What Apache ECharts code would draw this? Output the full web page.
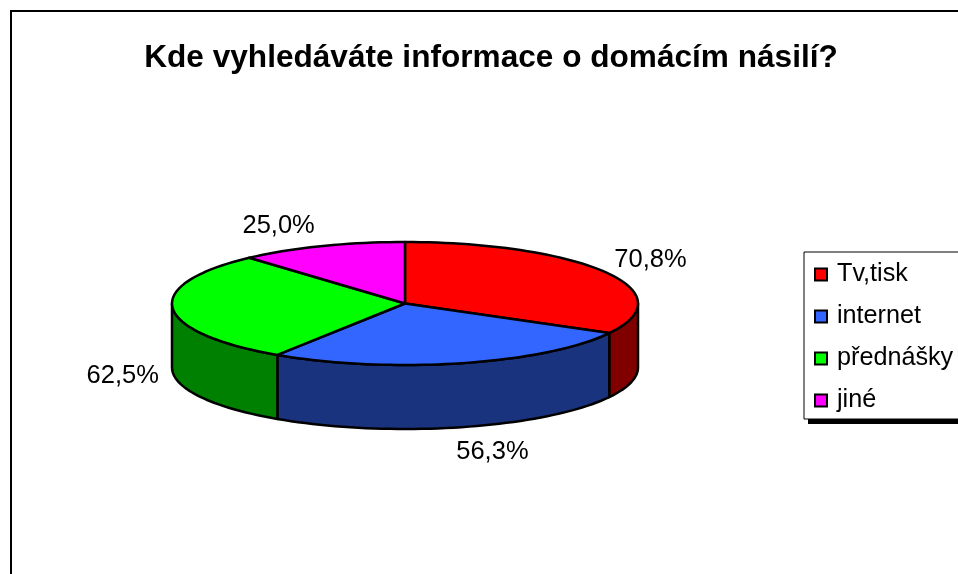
<!DOCTYPE html>
<html><head><meta charset="utf-8">
<style>html,body{margin:0;padding:0;background:#fff}#c{width:958px;height:574px}</style>
<script src="https://cdn.jsdelivr.net/npm/echarts@6/dist/echarts.min.js"></script>
</head><body><div id="c"></div>
<script>
const chartTitle = 'Kde vyhledáváte informace o domácím násilí?';
const categories = ['Tv,tisk', 'internet', 'přednášky', 'jiné'];
const values = [70.8, 56.3, 62.5, 25.0];
const labels = ['70,8%', '56,3%', '62,5%', '25,0%'];
const topColors = ['#ff0000', '#3366ff', '#00ff00', '#ff00ff'];
const wallColors = ['#800000', '#1a337f', '#008000', '#800080'];

const FONT = '"Liberation Sans", Arial, sans-serif';
const cx = 405, cy = 303.5, rx = 233, ry = 61.5, depth = 64;
const labelOffsets = [[45, -12], [31, 25], [-50, 4], [-43, -20]];

const total = values.reduce((a, b) => a + b, 0);
const ends = [];
values.reduce((acc, v, i) => { ends[i] = acc + v / total * 360; return ends[i]; }, 0);
const rim = (deg, dy) => {
  const t = deg * Math.PI / 180;
  return [cx + rx * Math.sin(t), cy - ry * Math.cos(t) + (dy || 0)];
};
const arc = (a, b, dy) => {
  const pts = [], n = Math.max(2, Math.ceil(Math.abs(b - a) / 2));
  for (let k = 0; k <= n; k++) pts.push(rim(a + (b - a) * k / n, dy));
  return pts;
};

const makeSeries = (name, i) => ({
  type: 'custom',
  name,
  coordinateSystem: 'none',
  silent: true,
  animation: false,
  itemStyle: { color: topColors[i] },
  data: [values[i]],
  renderItem: () => {
    const a = i ? ends[i - 1] : 0, b = ends[i];
    const children = [];
    const wa = Math.max(a, 90), wb = Math.min(b, 270);
    if (wb > wa) {
      children.push({
        type: 'polygon',
        shape: { points: arc(wa, wb, 0).concat(arc(wb, wa, depth)) },
        style: { fill: wallColors[i], stroke: '#000', lineWidth: 2.5, lineJoin: 'round' }
      });
    }
    children.push({
      type: 'polygon',
      shape: { points: [[cx, cy]].concat(arc(a, b, 0)) },
      style: { fill: topColors[i], stroke: '#000', lineWidth: 2.5, lineJoin: 'round' }
    });
    const mid = (a + b) / 2;
    const p = rim(mid, mid > 90 && mid < 270 ? depth : 0);
    children.push({
      type: 'text',
      style: {
        x: p[0] + labelOffsets[i][0], y: p[1] + labelOffsets[i][1],
        text: labels[i], fill: '#000', font: '25.5px ' + FONT,
        align: 'center', verticalAlign: 'middle'
      }
    });
    return { type: 'group', children };
  }
});

const chart = echarts.init(document.getElementById('c'), null, { renderer: 'canvas' });
chart.setOption({
  animation: false,
  backgroundColor: '#fff',
  title: {
    text: chartTitle, left: 486, top: 37, textAlign: 'center',
    textStyle: { fontFamily: FONT, fontWeight: 'bold', fontSize: 31.6, color: '#000' }
  },
  legend: {
    orient: 'vertical', left: 804, top: 252,
    padding: [10, 30, 6, 10],
    data: categories, icon: 'rect',
    itemWidth: 12, itemHeight: 12, itemGap: 17,
    selectedMode: false, z: 5,
    backgroundColor: '#fff', borderColor: '#000', borderWidth: 1,
    itemStyle: { borderColor: '#000', borderWidth: 2 },
    textStyle: { fontFamily: FONT, fontSize: 25.2, color: '#000', padding: [0, 0, 0, 5] }
  },
  graphic: [{
    type: 'polyline', silent: true,
    shape: { points: [[11, 600], [11, 11], [1000, 11]] },
    style: { fill: null, stroke: '#000', lineWidth: 2 }
  }, {
    type: 'rect', silent: true, z: 1,
    shape: { x: 808, y: 257, width: 200, height: 167 },
    style: { fill: '#000' }
  }],
  series: categories.map(makeSeries)
});
</script></body></html>
